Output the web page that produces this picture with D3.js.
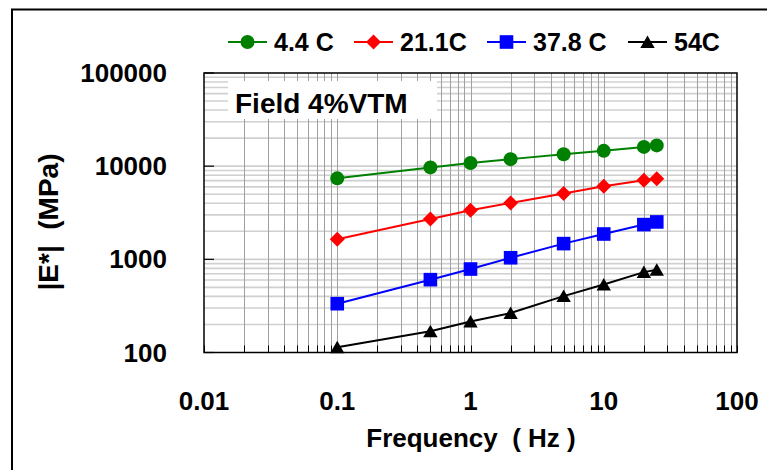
<!DOCTYPE html>
<html><head><meta charset="utf-8">
<script src="https://cdn.jsdelivr.net/npm/d3@7"></script>
<style>body{margin:0;background:#fff}svg{display:block}text{font-family:"Liberation Sans",Arial,sans-serif;font-weight:bold;fill:#000;white-space:pre}</style>
</head><body>
<svg id="c" width="767" height="470"></svg>
<script>
const freq = [0.1, 0.5, 1, 2, 5, 10, 20, 25];
const seriesNames = ["4.4 C", "21.1C", "37.8 C", "54C"];
const e44 = [7400, 9700, 10800, 11900, 13400, 14600, 16100, 16700];
const e211 = [1640, 2710, 3360, 4030, 5080, 6090, 7070, 7310];
const e378 = [334, 605, 787, 1040, 1475, 1870, 2360, 2520];
const e54 = [114, 169, 215, 265, 403, 538, 729, 774];
const xTicks = [0.01, 0.1, 1, 10, 100];
const yTicks = [100, 1000, 10000, 100000];
const colors = ["#008000", "#ff0000", "#0000ff", "#000000"];
const shapes = ["circle", "diamond", "square", "triangle"];
const allSeries = [e44, e211, e378, e54];

const svg = d3.select("#c");
const L = 204, R = 737, T = 73, B = 352.5;
const x = d3.scaleLog().domain([0.01, 100]).range([L, R]);
const y = d3.scaleLog().domain([100, 100000]).range([B, T]);

// outer frame
svg.append("line").attr("x1", 12).attr("x2", 12).attr("y1", 9).attr("y2", 470).attr("stroke", "#000").attr("stroke-width", 2);
svg.append("line").attr("x1", 11).attr("x2", 767).attr("y1", 9.5).attr("y2", 9.5).attr("stroke", "#000").attr("stroke-width", 2);

function logVals(lo, hi) {
  const v = [];
  for (let d = lo; d < hi * 0.999; d *= 10) for (let k = 1; k < 10; k++) v.push(d * k);
  v.push(hi);
  return v;
}
const xv = logVals(0.01, 100), yv = logVals(100, 100000);

const g = svg.append("g");
g.selectAll(".hg").data(yv.filter(v => v > 100 * 1.001 && v < 100000 * 0.999)).join("line")
  .attr("x1", L).attr("x2", R).attr("y1", d => y(d)).attr("y2", d => y(d))
  .attr("stroke", "#d0d0d0").attr("stroke-width", 1.6);
g.selectAll(".vg").data(xv.filter(v => v > 0.01 * 1.001 && v < 100 * 0.999)).join("line")
  .attr("x1", d => Math.round(x(d)) + 0.5).attr("x2", d => Math.round(x(d)) + 0.5).attr("y1", T).attr("y2", B)
  .attr("stroke", "#a0a0a0").attr("stroke-width", 1);

g.selectAll(".xt").data(xv).join("line")
  .attr("x1", d => Math.round(x(d)) + 0.5).attr("x2", d => Math.round(x(d)) + 0.5).attr("y1", B).attr("y2", B - 7)
  .attr("stroke", "#000").attr("stroke-width", 1);
g.selectAll(".yt").data(yTicks).join("line")
  .attr("x1", L).attr("x2", L + 10).attr("y1", d => y(d)).attr("y2", d => y(d))
  .attr("stroke", "#000").attr("stroke-width", 1.2);

svg.append("rect").attr("x", L).attr("y", T).attr("width", R - L).attr("height", B - T)
  .attr("fill", "none").attr("stroke", "#000").attr("stroke-width", 1.5);

// field label
svg.append("rect").attr("x", 228).attr("y", 81).attr("width", 209).attr("height", 38).attr("fill", "#fff");
svg.append("text").attr("x", 235).attr("y", 113).attr("font-size", 28).text("Field 4%VTM");

function marker(sel, shape, color) {
  if (shape === "circle") sel.append("circle").attr("r", 7).attr("fill", color);
  else if (shape === "diamond") sel.append("path").attr("d", "M0,-7.5L7.5,0L0,7.5L-7.5,0Z").attr("fill", color);
  else if (shape === "square") sel.append("rect").attr("x", -6.8).attr("y", -6.8).attr("width", 13.6).attr("height", 13.6).attr("fill", color);
  else sel.append("path").attr("d", "M0,-6.5L7.2,6L-7.2,6Z").attr("fill", color);
}
const line = d3.line().x(d => x(d[0])).y(d => y(d[1]));
allSeries.forEach((s, i) => {
  const pts = freq.map((f, j) => [f, s[j]]);
  svg.append("path").attr("d", line(pts)).attr("fill", "none").attr("stroke", colors[i]).attr("stroke-width", 2);
  pts.forEach(p => {
    const m = svg.append("g").attr("transform", `translate(${x(p[0])},${y(p[1])})`);
    marker(m, shapes[i], colors[i]);
  });
});

svg.selectAll(".xl").data(xTicks).join("text")
  .attr("x", d => x(d)).attr("y", 410).attr("text-anchor", "middle").attr("font-size", 26)
  .text(d => String(d));
svg.selectAll(".yl").data(yTicks).join("text")
  .attr("x", 167).attr("y", d => y(d) + 9).attr("text-anchor", "end").attr("font-size", 26)
  .text(d => String(d));
svg.append("text").attr("x", 471).attr("y", 447).attr("text-anchor", "middle").attr("font-size", 26)
  .text("Frequency  ( Hz )");
svg.append("text").attr("transform", "translate(58,222) rotate(-90)").attr("text-anchor", "middle").attr("font-size", 28)
  .text("|E*|  (MPa)");

const legX = [228, 354, 487, 628];
seriesNames.forEach((n, i) => {
  const lg = svg.append("g").attr("transform", `translate(${legX[i]},42)`);
  lg.append("line").attr("x1", 0).attr("x2", 39).attr("y1", 0).attr("y2", 0).attr("stroke", colors[i]).attr("stroke-width", 2);
  const m = lg.append("g").attr("transform", "translate(19.5,0)");
  marker(m, shapes[i], colors[i]);
  lg.append("text").attr("x", 46).attr("y", 9).attr("font-size", 25).text(n);
});
</script>
</body></html>
